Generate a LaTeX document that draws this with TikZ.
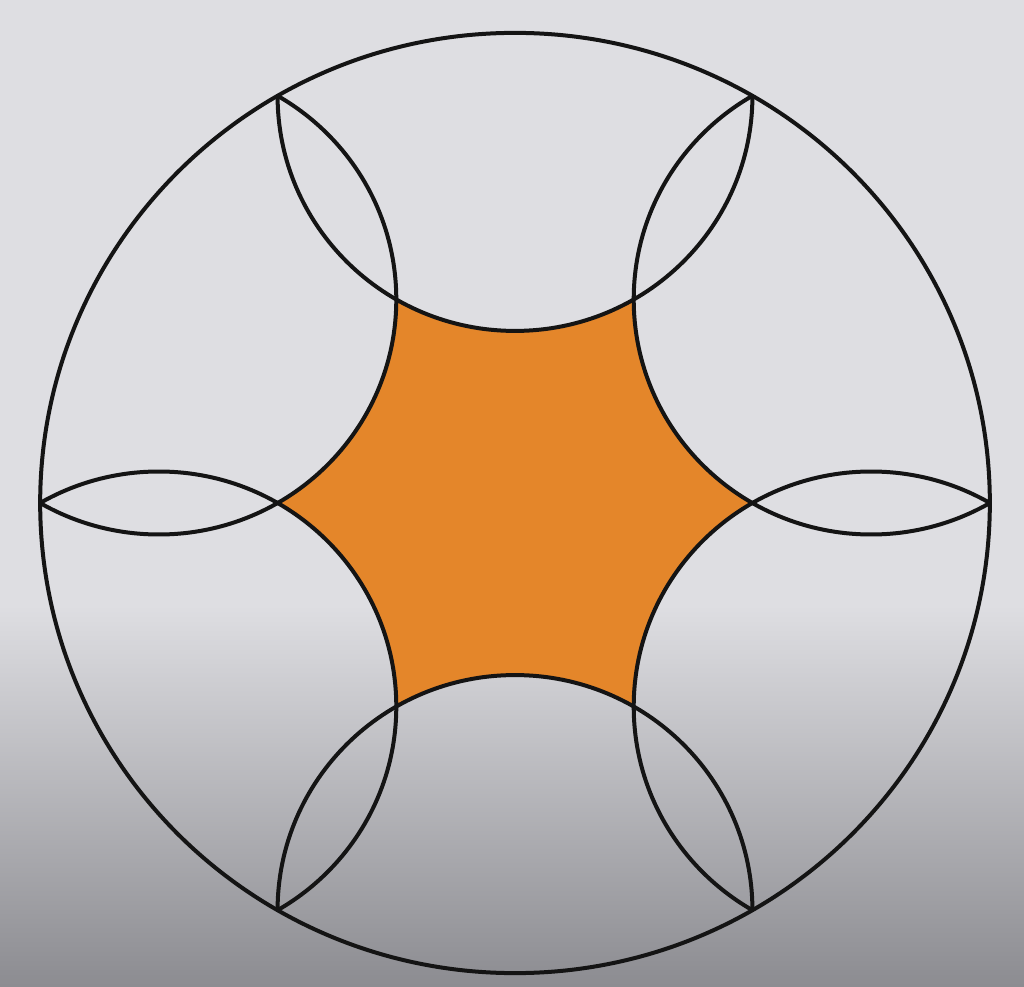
\documentclass[tikz,border=0pt]{standalone}
\definecolor{starorange}{RGB}{228,134,42}
\definecolor{bgtop}{RGB}{222,222,226}
\definecolor{bgbot}{RGB}{140,140,145}
\begin{document}
\begin{tikzpicture}[x=1pt,y=1pt,
  ink/.style={line width=4pt, draw=black!92, line join=round}]
\fill[bgtop] (0,380) rectangle (1024,986);
\shade[top color=bgtop, bottom color=bgbot] (0,0) rectangle (1024,381);
\useasboundingbox (0,0) rectangle (1024,986);
\begin{scope}[shift={(515,483)}, xscale=1.006, yscale=0.996]
  \def\R{472}
  \def\r{236}
  \fill[starorange] (120:\r)
    arc[start angle=240, end angle=300, radius=\r]
    arc[start angle=180, end angle=240, radius=\r]
    arc[start angle=120, end angle=180, radius=\r]
    arc[start angle=60, end angle=120, radius=\r]
    arc[start angle=0, end angle=60, radius=\r]
    arc[start angle=-60, end angle=0, radius=\r] -- cycle;
  \begin{scope}
    \clip (0,0) circle[radius=\R];
    \foreach \a in {90,150,210,270,330,390}
      \draw[ink] (\a:0.8660254*\R) circle[radius=\r];
  \end{scope}
  \draw[ink] (0,0) circle[radius=\R];
\end{scope}
\end{tikzpicture}
\end{document}
